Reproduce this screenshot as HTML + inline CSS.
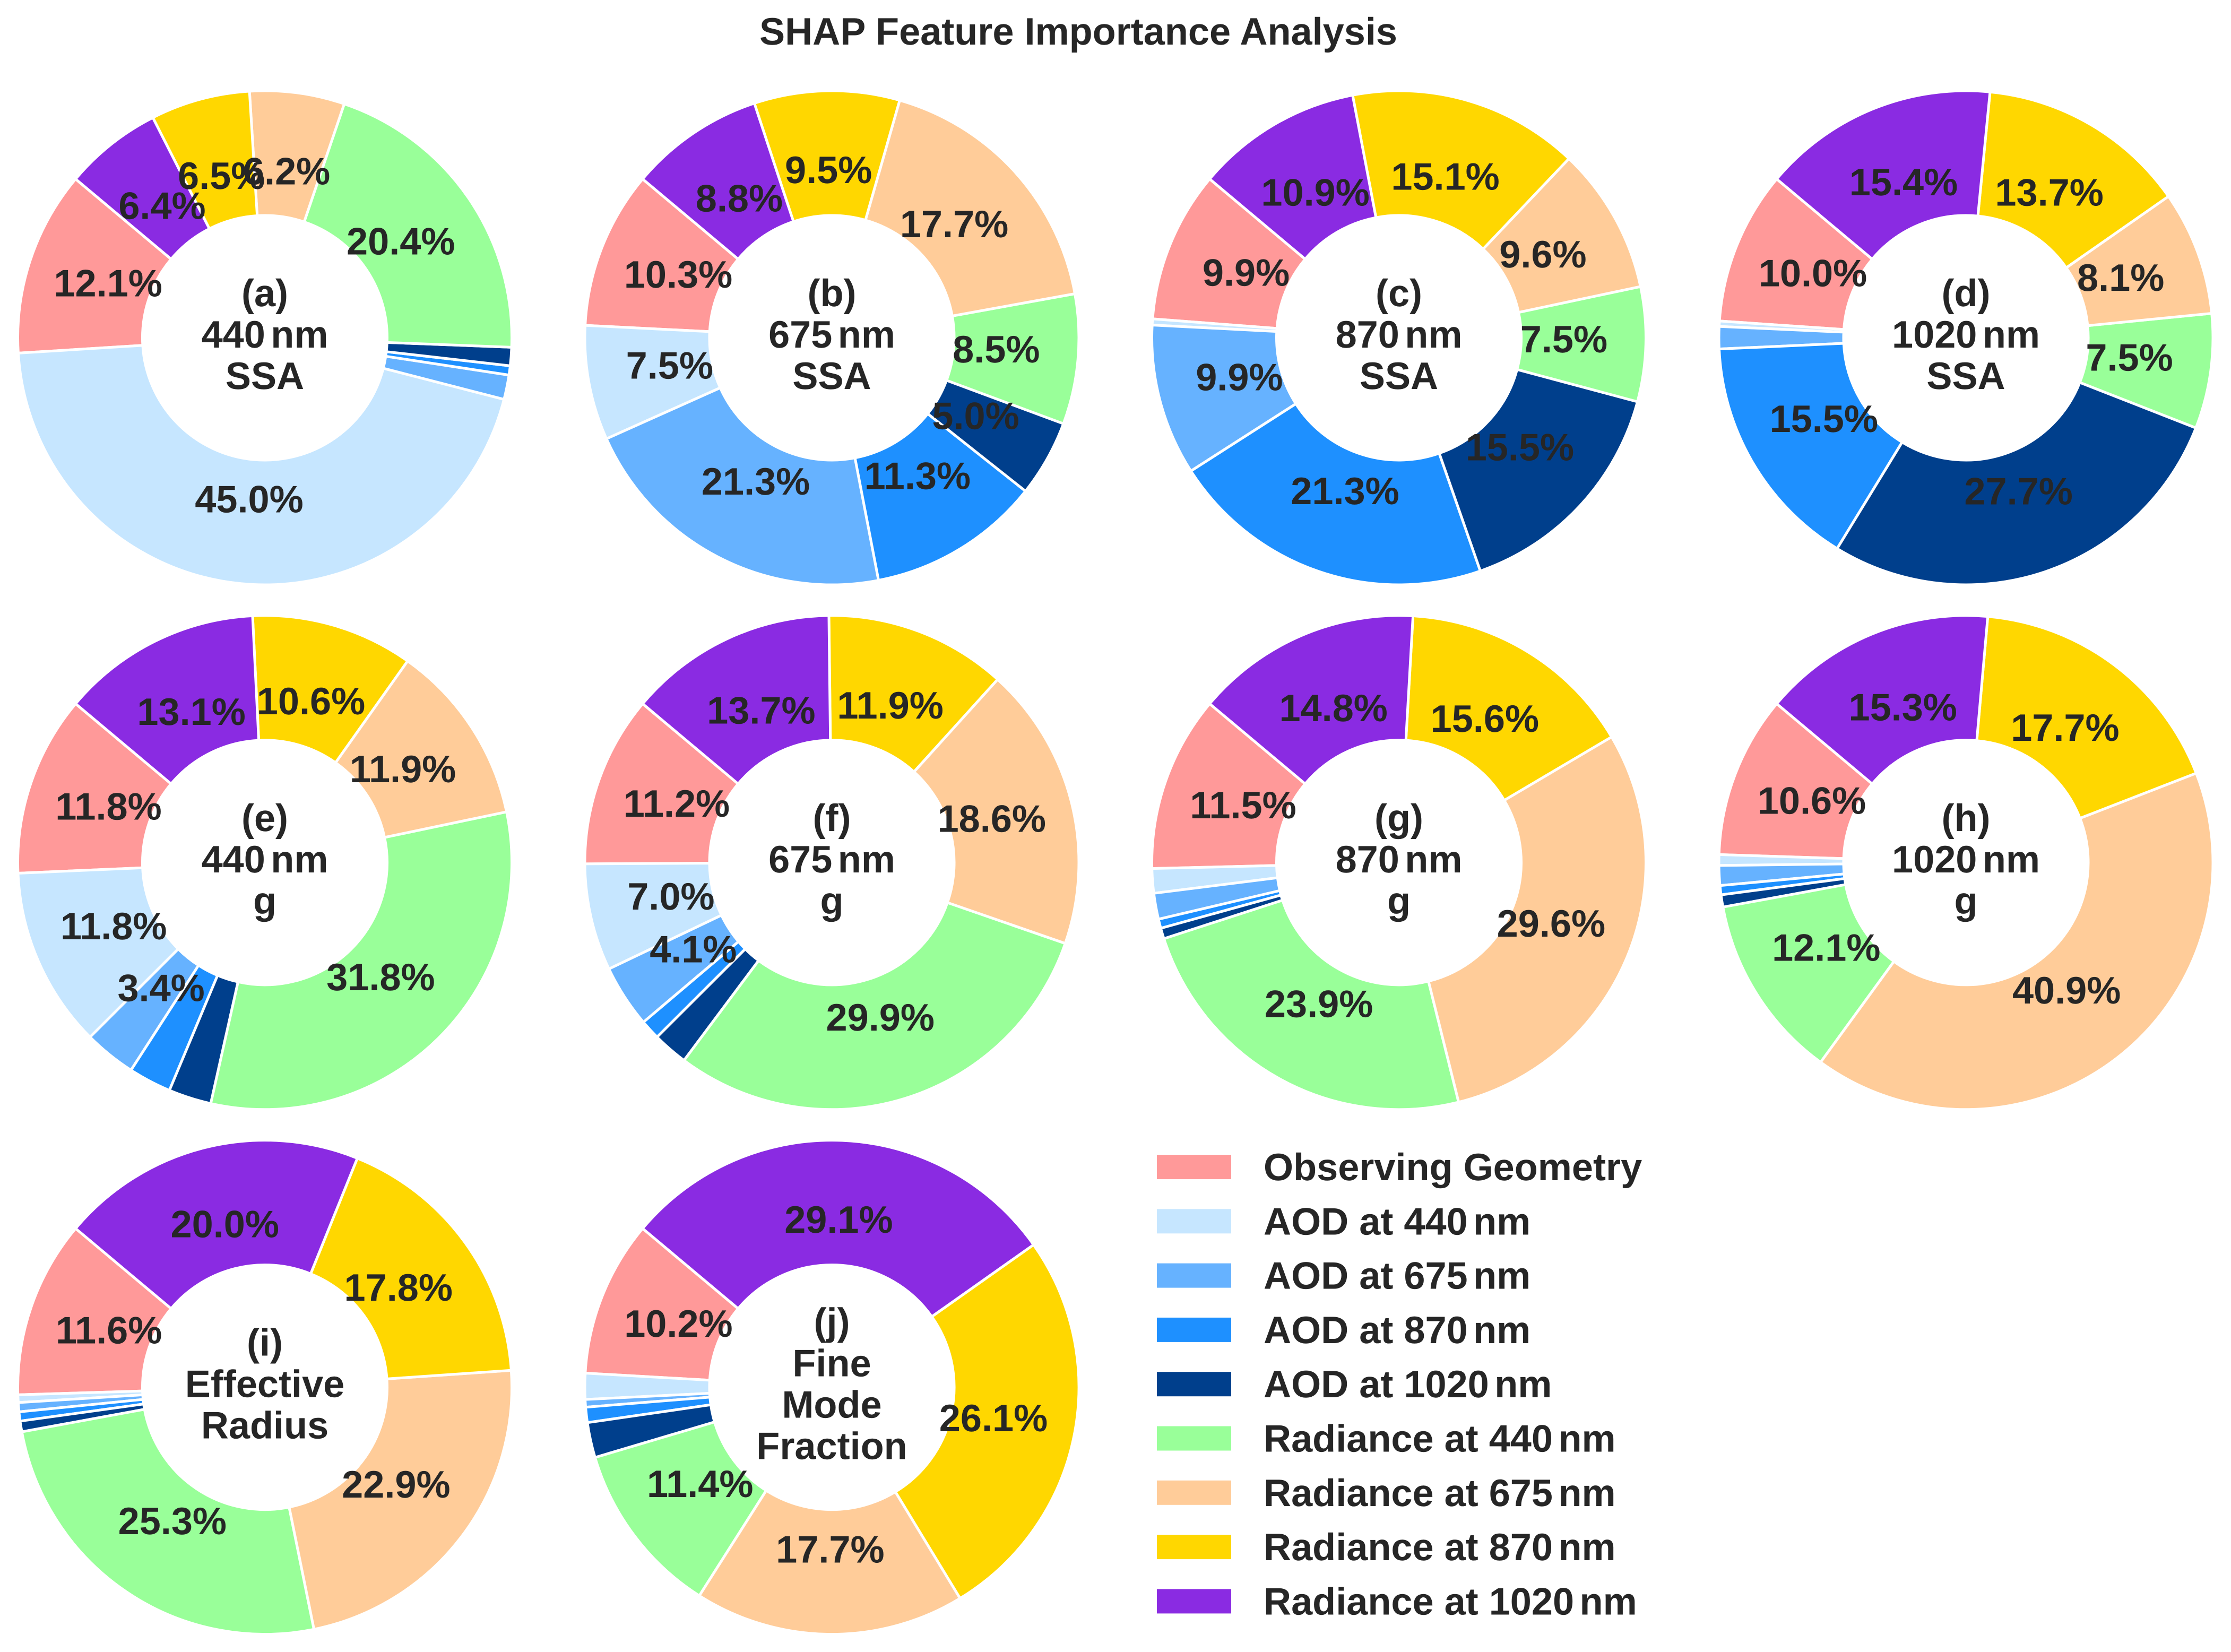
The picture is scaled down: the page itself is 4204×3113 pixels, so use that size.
<!DOCTYPE html>
<html lang="en">
<head>
<meta charset="utf-8">
<title>SHAP Feature Importance Analysis</title>
<style>
html,body{margin:0;padding:0;background:#fff;}
svg{display:block;}
text{font-family:"Liberation Sans",Arial,sans-serif;font-weight:700;fill:#262626;font-size:72.1px;text-rendering:geometricPrecision;}
</style>
</head>
<body>
<svg id="chart" xmlns="http://www.w3.org/2000/svg" width="4204" height="3113" viewBox="0 0 4204 3113">
  <rect width="4204" height="3113" fill="#ffffff"/>
  <text x="2032" y="84" text-anchor="middle">SHAP Feature Importance Analysis</text>
  <g id="panels"></g>
  <g>
    <g><rect x="2180" y="2176" width="140" height="46" fill="#FF9999"/><text x="2381" y="2224">Observing Geometry</text></g>
    <g><rect x="2180" y="2278.3" width="140" height="46" fill="#C6E6FF"/><text x="2381" y="2326.3">AOD at 440<tspan letter-spacing="-4">&#8201;</tspan>nm</text></g>
    <g><rect x="2180" y="2380.6" width="140" height="46" fill="#66B2FF"/><text x="2381" y="2428.6">AOD at 675<tspan letter-spacing="-4">&#8201;</tspan>nm</text></g>
    <g><rect x="2180" y="2482.9" width="140" height="46" fill="#1E90FF"/><text x="2381" y="2530.9">AOD at 870<tspan letter-spacing="-4">&#8201;</tspan>nm</text></g>
    <g><rect x="2180" y="2585.2" width="140" height="46" fill="#003F8C"/><text x="2381" y="2633.2">AOD at 1020<tspan letter-spacing="-4">&#8201;</tspan>nm</text></g>
    <g><rect x="2180" y="2687.5" width="140" height="46" fill="#99FF99"/><text x="2381" y="2735.5">Radiance at 440<tspan letter-spacing="-4">&#8201;</tspan>nm</text></g>
    <g><rect x="2180" y="2789.8" width="140" height="46" fill="#FFCC99"/><text x="2381" y="2837.8">Radiance at 675<tspan letter-spacing="-4">&#8201;</tspan>nm</text></g>
    <g><rect x="2180" y="2892.1" width="140" height="46" fill="#FFD700"/><text x="2381" y="2940.1">Radiance at 870<tspan letter-spacing="-4">&#8201;</tspan>nm</text></g>
    <g><rect x="2180" y="2994.4" width="140" height="46" fill="#8A2BE2"/><text x="2381" y="3042.4">Radiance at 1020<tspan letter-spacing="-4">&#8201;</tspan>nm</text></g>
  </g>
</svg>
<script>
// Feature categories, in wedge order (counter-clockwise)
const categories = ["observing-geometry","aod-440","aod-675","aod-870","aod-1020","radiance-440","radiance-675","radiance-870","radiance-1020"];

// Share (%) of each feature per panel
const panelA = [12.1,45.0,1.6,0.6,1.2,20.4,6.2,6.5,6.4];
const panelB = [10.3,7.5,21.3,11.3,5.0,8.5,17.7,9.5,8.8];
const panelC = [9.9,0.4,9.9,21.3,15.5,7.5,9.6,15.1,10.9];
const panelD = [10.0,0.35,1.45,15.5,27.7,7.5,8.1,13.7,15.4];
const panelE = [11.8,11.8,3.4,2.8,2.8,31.8,11.9,10.6,13.1];
const panelF = [11.2,7.0,4.1,1.3,2.3,29.9,18.6,11.9,13.7];
const panelG = [11.5,1.6,1.7,0.6,0.7,23.9,29.6,15.6,14.8];
const panelH = [10.6,0.7,1.3,0.6,0.8,12.1,40.9,17.7,15.3];
const panelI = [11.6,0.5,0.6,0.6,0.7,25.3,22.9,17.8,20.0];
const panelJ = [10.2,1.7,0.5,1.0,2.3,11.4,17.7,26.1,29.1];
const panelValues = [panelA,panelB,panelC,panelD,panelE,panelF,panelG,panelH,panelI,panelJ];

// Centre captions per panel
const panelCaptions = [
  ["(a)","440\u2009nm","SSA"],["(b)","675\u2009nm","SSA"],["(c)","870\u2009nm","SSA"],["(d)","1020\u2009nm","SSA"],
  ["(e)","440\u2009nm","g"],["(f)","675\u2009nm","g"],["(g)","870\u2009nm","g"],["(h)","1020\u2009nm","g"],
  ["(i)","Effective","Radius"],["(j)","Fine","Mode","Fraction"]
];

// Styling and layout, separate from the data
const wedgeColors = ["#FF9999","#C6E6FF","#66B2FF","#1E90FF","#003F8C","#99FF99","#FFCC99","#FFD700","#8A2BE2"];
const SVG_NS = "http://www.w3.org/2000/svg";
const OUTER_R = 465.5, INNER_R = 230.5, PCT_R = 311;
const START_ANGLE = 140, MIN_LABEL_PCT = 3;
const GRID_X0 = 499, GRID_DX = 1068.5, GRID_Y0 = 636.5, GRID_DY = 988.8, GRID_COLS = 4;
const LABEL_BASELINE_SHIFT = 19.4, CAPTION_SHIFT = 18.5, CAPTION_LINE = 78;

function panelCenter(i){
  return {x: GRID_X0 + (i % GRID_COLS) * GRID_DX, y: GRID_Y0 + Math.floor(i / GRID_COLS) * GRID_DY};
}
function shareToAngle(cumulative, total){
  return START_ANGLE + 360 * cumulative / total;
}
function polar(c, r, deg){
  const a = deg * Math.PI / 180;
  return {x: c.x + r * Math.cos(a), y: c.y - r * Math.sin(a)};
}
function wedgePath(c, a0, a1){
  const p0 = polar(c, OUTER_R, a0), p1 = polar(c, OUTER_R, a1);
  const q1 = polar(c, INNER_R, a1), q0 = polar(c, INNER_R, a0);
  const large = (a1 - a0) > 180 ? 1 : 0;
  return "M" + p0.x + " " + p0.y +
    "A" + OUTER_R + " " + OUTER_R + " 0 " + large + " 0 " + p1.x + " " + p1.y +
    "L" + q1.x + " " + q1.y +
    "A" + INNER_R + " " + INNER_R + " 0 " + large + " 1 " + q0.x + " " + q0.y + "Z";
}
function fillCaption(t, line){
  const parts = line.split("\u2009");
  if (parts.length < 2) { t.textContent = line; return; }
  t.appendChild(document.createTextNode(parts[0]));
  const gap = document.createElementNS(SVG_NS, "tspan");
  gap.setAttribute("letter-spacing", "-4");
  gap.textContent = "\u2009";
  t.appendChild(gap);
  t.appendChild(document.createTextNode(parts[1]));
}

const panelsRoot = document.getElementById("panels");
panelValues.forEach(function(vals, i){
  const letter = String.fromCharCode(97 + i);
  const c = panelCenter(i);
  const total = vals.reduce(function(s, v){ return s + v; }, 0);
  const g = document.createElementNS(SVG_NS, "g");
  
  
  let cum = 0;
  const labels = [];
  vals.forEach(function(v, k){
    const a0 = shareToAngle(cum, total);
    cum += v;
    const a1 = shareToAngle(cum, total);
    const path = document.createElementNS(SVG_NS, "path");
    path.setAttribute("d", wedgePath(c, a0, a1));
    path.setAttribute("fill", wedgeColors[k]);
    path.setAttribute("stroke", "#ffffff");
    path.setAttribute("stroke-width", "5");
    path.setAttribute("stroke-linejoin", "round");
    
    
    g.appendChild(path);
    if (v / total * 100 > MIN_LABEL_PCT) {
      const p = polar(c, PCT_R, (a0 + a1) / 2);
      const t = document.createElementNS(SVG_NS, "text");
      t.setAttribute("x", p.x);
      t.setAttribute("y", p.y + LABEL_BASELINE_SHIFT);
      t.setAttribute("text-anchor", "middle");
      t.textContent = v.toFixed(1) + "%";
      
      
      labels.push(t);
    }
  });
  labels.forEach(function(t){ g.appendChild(t); });
  const lines = panelCaptions[i];
  lines.forEach(function(line, k){
    const t = document.createElementNS(SVG_NS, "text");
    t.setAttribute("x", c.x);
    t.setAttribute("y", c.y + CAPTION_SHIFT + (k - (lines.length - 1) / 2) * CAPTION_LINE);
    t.setAttribute("text-anchor", "middle");
    fillCaption(t, line);
    
    
    g.appendChild(t);
  });
  panelsRoot.appendChild(g);
});
</script>
</body>
</html>
